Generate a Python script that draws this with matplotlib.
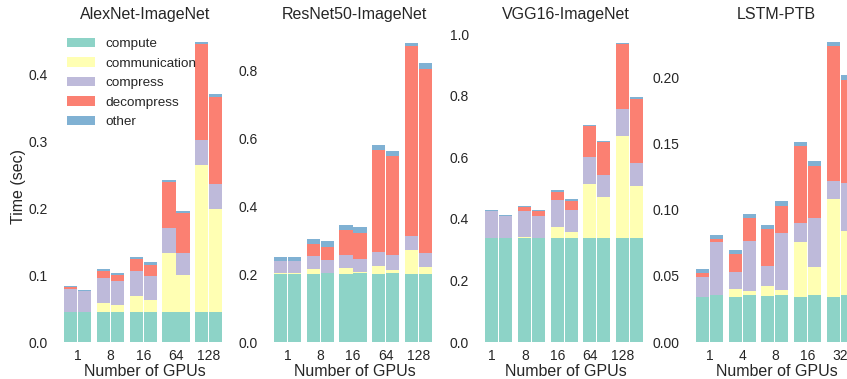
import numpy as np
import matplotlib
matplotlib.use("Agg")
import matplotlib.pyplot as plt

plt.rcParams['font.family'] = ['Liberation Sans', 'DejaVu Sans']
plt.rcParams['text.color'] = '#262626'
plt.rcParams['axes.labelcolor'] = '#262626'
plt.rcParams['xtick.color'] = '#262626'
plt.rcParams['ytick.color'] = '#262626'

parts = ['compute', 'communication', 'compress', 'decompress', 'other']
colors = ['#8dd3c7', '#ffffb3', '#bebada', '#fb8072', '#80b1d3']

# cumulative tops of each segment
# (bar A, bar B) for each GPU count
alex_gpus = ['1', '8', '16', '64', '128']
alex_a = [[0.045, 0.045, 0.080, 0.0825, 0.084],
          [0.045, 0.0585, 0.096, 0.106, 0.1095],
          [0.045, 0.069, 0.106, 0.124, 0.127],
          [0.045, 0.1325, 0.1705, 0.2395, 0.2425],
          [0.045, 0.265, 0.3025, 0.4465, 0.449]]
alex_b = [[0.045, 0.045, 0.0765, 0.077, 0.078],
          [0.045, 0.055, 0.091, 0.100, 0.103],
          [0.045, 0.0625, 0.0985, 0.115, 0.1195],
          [0.045, 0.100, 0.1325, 0.1925, 0.196],
          [0.045, 0.199, 0.2365, 0.3665, 0.371]]

resnet_gpus = ['1', '8', '16', '64', '128']
resnet_a = [[0.199, 0.202, 0.2375, 0.2375, 0.250],
            [0.199, 0.214, 0.252, 0.2886, 0.3033],
            [0.199, 0.218, 0.255, 0.330, 0.3436],
            [0.199, 0.2238, 0.265, 0.5654, 0.579],
            [0.199, 0.271, 0.312, 0.8717, 0.8815]]
resnet_b = [[0.199, 0.202, 0.2375, 0.2375, 0.250],
            [0.202, 0.202, 0.2405, 0.279, 0.2974],
            [0.202, 0.205, 0.2434, 0.320, 0.3377],
            [0.202, 0.211, 0.255, 0.5477, 0.5634],
            [0.199, 0.221, 0.262, 0.803, 0.8216]]

vgg_gpus = ['1', '8', '16', '64', '128']
vgg_a = [[0.337, 0.337, 0.424, 0.424, 0.427],
         [0.337, 0.3405, 0.424, 0.438, 0.443],
         [0.337, 0.372, 0.4605, 0.4886, 0.494],
         [0.337, 0.512, 0.600, 0.7005, 0.706],
         [0.337, 0.670, 0.7557, 0.9665, 0.972]]
vgg_b = [[0.337, 0.337, 0.4076, 0.4076, 0.411],
         [0.337, 0.337, 0.4076, 0.424, 0.428],
         [0.337, 0.357, 0.428, 0.457, 0.463],
         [0.337, 0.470, 0.5416, 0.6486, 0.654],
         [0.337, 0.508, 0.5805, 0.789, 0.797]]

lstm_gpus = ['1', '4', '8', '16', '32']
lstm_a = [[0.0337, 0.0337, 0.0488, 0.0518, 0.0548],
          [0.0337, 0.0397, 0.0526, 0.0662, 0.0692],
          [0.0345, 0.042, 0.0571, 0.085, 0.088],
          [0.0337, 0.0752, 0.0896, 0.1477, 0.1507],
          [0.0337, 0.1077, 0.1213, 0.2231, 0.2262]]
lstm_b = [[0.0352, 0.0352, 0.0752, 0.0775, 0.0805],
          [0.0352, 0.0382, 0.076, 0.0933, 0.0964],
          [0.0352, 0.039, 0.082, 0.1024, 0.1062],
          [0.0352, 0.0564, 0.0933, 0.1326, 0.1364],
          [0.0352, 0.0835, 0.1198, 0.1975, 0.2013]]

panels = [
    ('AlexNet-ImageNet', alex_gpus, alex_a, alex_b, 0.467, np.arange(0, 0.41, 0.1), '%.1f', 0.0),
    ('ResNet50-ImageNet', resnet_gpus, resnet_a, resnet_b, 0.919, np.arange(0, 0.81, 0.2), '%.1f', 0.0),
    ('VGG16-ImageNet', vgg_gpus, vgg_a, vgg_b, 1.013, np.arange(0, 1.01, 0.2), '%.1f', -0.2),
    ('LSTM-PTB', lstm_gpus, lstm_a, lstm_b, 0.2355, np.arange(0, 0.201, 0.05), '%.2f', 0.0),
]

W, H = 847, 379
fig = plt.figure(figsize=(W / 100, H / 100), dpi=100)
unit = 32.7
centers = [77.9, 287.6, 498.8, 709.4]
width = 0.40
off = 0.215

for k, (title, gpus, top_a, top_b, ymax, yt, fmt, tick_shift) in enumerate(panels):
    left = centers[k] - 0.7 * unit
    ax = fig.add_axes([left / W, 37 / H, 5.5 * unit / W, 312 / H])
    x = np.arange(len(gpus))
    for tops, dx in ((np.array(top_a), -off), (np.array(top_b), off)):
        bottom = np.zeros(len(gpus))
        for j in range(len(parts)):
            h = tops[:, j] - bottom
            ax.bar(x + dx, h, width, bottom=bottom, color=colors[j],
                   linewidth=0, label=parts[j] if dx < 0 else None)
            bottom = tops[:, j]
    ax.set_xlim(-0.7, 4.8)
    ax.set_ylim(0, ymax)
    ax.set_xticks(x + tick_shift)
    ax.set_xticklabels(gpus)
    ax.set_yticks(yt)
    ax.set_yticklabels([fmt % v for v in yt])
    ax.tick_params(length=0, labelsize=10, pad=5)
    for s in ax.spines.values():
        s.set_visible(False)
    ax.set_title(title, fontsize=11.5, pad=8)
    ax.set_xlabel('Number of GPUs', fontsize=11.5, labelpad=0.5)
    if k == 0:
        ax.set_ylabel('Time (sec)', fontsize=11.5, labelpad=2)
        ax.legend(loc='upper left', frameon=False, fontsize=9.7,
                  handlelength=2.07, handleheight=0.72, handletextpad=0.74,
                  labelspacing=0.52, bbox_to_anchor=(0.0, 1.014))

fig.savefig('out.png', dpi=100)
